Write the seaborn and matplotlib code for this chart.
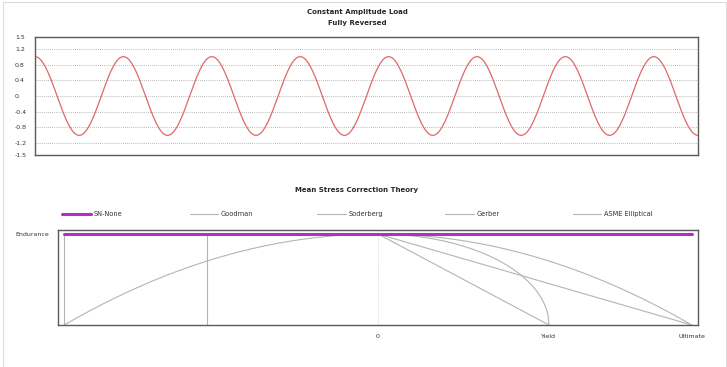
import numpy as np
import pandas as pd
import matplotlib.pyplot as plt
import seaborn as sns
from matplotlib.patches import Rectangle

# Load history: reversal points (peak / trough) of the fully reversed load
reversals = [1.0, -1.0, 1.0, -1.0, 1.0, -1.0, 1.0, -1.0,
             1.0, -1.0, 1.0, -1.0, 1.0, -1.0, 1.0, -1.0]
load_yticks = [1.5, 1.2, 0.8, 0.4, 0.0, -0.4, -0.8, -1.2, -1.5]
load_ylabels = ['1.5', '1.2', '0.8', '0.4', '0.', '-0.4', '-0.8', '-1.2', '-1.5']

# Material strengths (normalised to the ultimate strength)
endurance = 1.0
yield_strength = 0.545
ultimate = 1.0
theories = ['SN-None', 'Goodman', 'Soderberg', 'Gerber', 'ASME Elliptical']
theory_colors = ['#b52ec4', '#b4b4b4', '#b4b4b4', '#b4b4b4', '#b4b4b4']
strength_ticks = ['0', 'Yield', 'Ultimate']

# Build the load curve: half-cosine between consecutive reversals
t_parts, y_parts = [], []
for i in range(len(reversals) - 1):
    s = np.linspace(0, 1, 40)
    a, b = reversals[i], reversals[i + 1]
    t_parts.append(0.5 * (i + s))
    y_parts.append((a + b) / 2 + (a - b) / 2 * np.cos(np.pi * s))
load = pd.DataFrame({'t': np.concatenate(t_parts), 'load': np.concatenate(y_parts)})

# Mean stress correction curves (Sm, Sa) for each theory
rows = []
def add(theory, seg, sm, sa):
    for x, y in zip(sm, sa):
        rows.append((theory, seg, x, y))

add('SN-None', 0, [-ultimate, ultimate], [endurance, endurance])
add('Goodman', 0, [-ultimate, -ultimate], [0, endurance])
add('Goodman', 1, [0, ultimate], [endurance, 0])
add('Soderberg', 0, [-yield_strength, -yield_strength], [0, endurance])
add('Soderberg', 1, [0, yield_strength], [endurance, 0])
sm = np.linspace(-ultimate, ultimate, 200)
add('Gerber', 0, sm, endurance * (1 - (sm / ultimate) ** 2))
sm = np.linspace(0, yield_strength, 200)
add('ASME Elliptical', 0, sm, endurance * np.sqrt(np.clip(1 - (sm / yield_strength) ** 2, 0, None)))
msc = pd.DataFrame(rows, columns=['theory', 'seg', 'Sm', 'Sa'])

sns.set_theme(style='white')
plt.rcParams['font.family'] = ['DejaVu Sans']

W, H = 727, 367
fig = plt.figure(figsize=(W / 100, H / 100), dpi=100)

def rect(l, t, r, b):
    return [l / W, 1 - b / H, (r - l) / W, (b - t) / H]

frame = '#5a5a5a'

# ---- Top chart: constant amplitude load
ax1 = fig.add_axes(rect(35, 37, 698, 155))
sns.lineplot(data=load, x='t', y='load', ax=ax1, color='#e06868', linewidth=0.9, sort=False, estimator=None)
ax1.set_xlim(0, 7.5)
ax1.set_ylim(-1.5, 1.5)
ax1.set_xticks([])
ax1.set_yticks(load_yticks)
ax1.set_yticklabels(load_ylabels, fontsize=4.5, color='#333333')
for lab in ax1.get_yticklabels():
    lab.set_ha('left')
ax1.tick_params(axis='y', length=0, pad=14.4)
for v in load_yticks[1:-1]:
    ax1.axhline(v, color='#a0a0a0', linestyle=(0, (1, 1.5)), linewidth=0.6, zorder=0)
ax1.set_xlabel('')
ax1.set_ylabel('')
for sp in ax1.spines.values():
    sp.set_color(frame)
    sp.set_linewidth(1.0)
fig.text(357 / W, 1 - 12 / H, 'Constant Amplitude Load', ha='center', va='center', fontsize=5, fontweight='bold')
fig.text(357 / W, 1 - 23 / H, 'Fully Reversed', ha='center', va='center', fontsize=5, fontweight='bold')

# ---- Bottom chart: mean stress correction theory
ax2 = fig.add_axes(rect(58, 230, 698, 325))
ax2.axvline(0, color='#c8c8c8', linestyle=(0, (1, 1.5)), linewidth=0.6, zorder=0)
for theory, color in zip(theories[::-1], theory_colors[::-1]):
    sub = msc[msc['theory'] == theory]
    for seg, g in sub.groupby('seg'):
        sns.lineplot(data=g, x='Sm', y='Sa', ax=ax2, color=color, sort=False, estimator=None,
                     linewidth=2.2 if theory == 'SN-None' else 0.8)
ax2.set_xlim(-1.02 * ultimate, 1.02 * ultimate)
ax2.set_ylim(0, 1.044 * endurance)
ax2.set_xticks([0, yield_strength, ultimate])
ax2.set_xticklabels(strength_ticks, fontsize=4.5, color='#333333')
ax2.set_yticks([endurance])
ax2.set_yticklabels(['Endurance'], fontsize=4.5, color='#333333')
ax2.tick_params(length=0, pad=6.5)
ax2.set_xlabel('')
ax2.set_ylabel('')
for sp in ax2.spines.values():
    sp.set_color(frame)
    sp.set_linewidth(1.0)
fig.text(357 / W, 1 - 190 / H, 'Mean Stress Correction Theory', ha='center', va='center', fontsize=5, fontweight='bold')

# legend row: one entry per theory, evenly spaced
for k, (t, c) in enumerate(zip(theories, theory_colors)):
    h = plt.Line2D([], [], color=c, linewidth=2.2 if t == 'SN-None' else 0.8)
    fig.legend([h], [t], loc='center left', bbox_to_anchor=((62 + 127.7 * k) / W, 1 - 214 / H),
               frameon=False, fontsize=4.8, handlelength=4.3, handletextpad=0.4,
               borderpad=0, borderaxespad=0, labelcolor='#333333')

# outer light frame
fig.patches.append(Rectangle((3 / W, -0.05), 723 / W, 1.05 - 2 / H, transform=fig.transFigure,
                             fill=False, edgecolor='#dcdcdc', linewidth=0.8))

fig.savefig('out.png', dpi=100)
